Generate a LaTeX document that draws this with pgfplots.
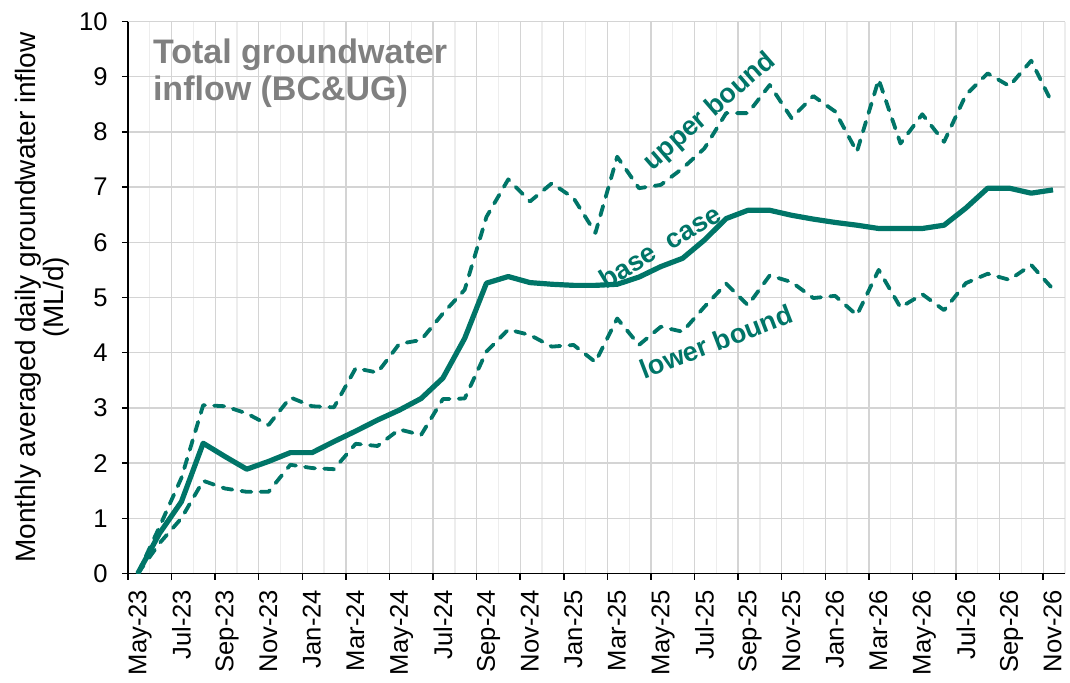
\documentclass[border=0pt]{standalone}
\usepackage{fontspec}
\setmainfont{Liberation Sans}
\usepackage{pgfplots}
\usepackage{pgfplotstable}
\pgfplotsset{compat=1.18}
\definecolor{teal1}{RGB}{0,117,104}
\definecolor{titlegray}{RGB}{128,128,128}

\pgfplotstableread{
x base upper lower
0.45 0.00 0.00 0.00
1.45 0.73 0.85 0.55
2.45 1.30 1.73 1.00
3.45 2.36 3.05 1.68
4.45 2.12 3.03 1.54
5.45 1.89 2.90 1.48
6.45 2.03 2.69 1.48
7.45 2.19 3.19 1.97
8.45 2.19 3.03 1.91
9.45 2.39 3.01 1.89
10.45 2.58 3.72 2.35
11.45 2.78 3.64 2.31
12.45 2.96 4.16 2.61
13.45 3.17 4.23 2.51
14.45 3.54 4.71 3.16
15.45 4.26 5.14 3.17
16.45 5.26 6.46 4.02
17.45 5.38 7.14 4.42
18.45 5.27 6.74 4.32
19.45 5.24 7.07 4.11
20.45 5.22 6.80 4.14
21.45 5.22 6.17 3.83
22.45 5.24 7.55 4.62
23.45 5.37 6.98 4.14
24.45 5.56 7.04 4.47
25.45 5.71 7.34 4.38
26.45 6.04 7.70 4.83
27.45 6.43 8.34 5.25
28.45 6.58 8.34 4.86
29.45 6.58 8.85 5.40
30.45 6.49 8.25 5.28
31.45 6.42 8.65 4.99
32.45 6.36 8.37 5.03
33.45 6.31 7.64 4.68
34.45 6.25 8.95 5.50
35.45 6.25 7.79 4.82
36.45 6.25 8.32 5.06
37.45 6.31 7.82 4.77
38.45 6.62 8.67 5.26
39.45 6.98 9.06 5.43
40.45 6.98 8.83 5.32
41.45 6.89 9.29 5.59
42.45 6.95 8.49 5.15
}\datatable

\begin{document}
\begin{tikzpicture}
\path[use as bounding box] (0,0) rectangle (535pt,341pt);
\begin{axis}[
  at={(64pt,54.25pt)}, anchor=south west,
  width=468.5pt, height=276pt, scale only axis,
  xmin=0, xmax=43, ymin=0, ymax=10,
  axis x line*=bottom, axis y line*=left,
  axis line style={black, line width=0.75pt},
  xtick={0,2,...,42},
  xticklabels={May-23,Jul-23,Sep-23,Nov-23,Jan-24,Mar-24,May-24,Jul-24,Sep-24,Nov-24,Jan-25,Mar-25,May-25,Jul-25,Sep-25,Nov-25,Jan-26,Mar-26,May-26,Jul-26,Sep-26,Nov-26},
  minor xtick={1,3,...,43},
  ytick={0,1,...,10},
  grid=both,
  major grid style={draw=black!17, line width=0.65pt},
  minor grid style={draw=black!7, line width=0.65pt},
  tick align=outside,
  major tick length=3pt, minor tick length=0pt,
  tick style={black, line width=0.75pt},
  /pgf/number format/assume math mode=true,
  ticklabel style={font=\fontsize{12.8}{13}\selectfont},
  xticklabel style={rotate=90, anchor=north east, inner sep=0pt},
  yticklabel style={anchor=east, inner sep=0pt},
  xticklabel shift=5pt,
  yticklabel shift=7pt,
  ylabel={Monthly averaged daily groundwater inflow\\(ML/d)},
  ylabel style={at={(axis description cs:-0.0912,0.5)}, anchor=center, align=center, font=\fontsize{14}{14}\selectfont},
]
\addplot[teal1, line width=1.9pt, line cap=round, line join=round, dash pattern=on 5pt off 4.6pt] table[x=x, y=upper] {\datatable};
\addplot[teal1, line width=1.9pt, line cap=round, line join=round, dash pattern=on 5pt off 4.6pt] table[x=x, y=lower] {\datatable};
\addplot[teal1, line width=2.6pt, line join=round] table[x=x, y=base] {\datatable};
\node[anchor=north west, align=left, inner sep=0pt, font=\fontsize{17}{18.5}\selectfont\bfseries, text=titlegray] at (axis cs:1.13,9.70) {Total groundwater\\inflow (BC\&UG)};
\node[rotate=41, inner sep=0pt, font=\fontsize{13.5}{14}\selectfont\bfseries, text=teal1] at (axis cs:26.7,8.36) {upper bound};
\node[rotate=31, inner sep=0pt, font=\fontsize{13.5}{14}\selectfont\bfseries, text=teal1] at (axis cs:24.4,5.93) {base\ \ case};
\node[rotate=21, inner sep=0pt, font=\fontsize{13.5}{14}\selectfont\bfseries, text=teal1] at (axis cs:27.0,4.20) {lower bound};
\end{axis}
\end{tikzpicture}
\end{document}
